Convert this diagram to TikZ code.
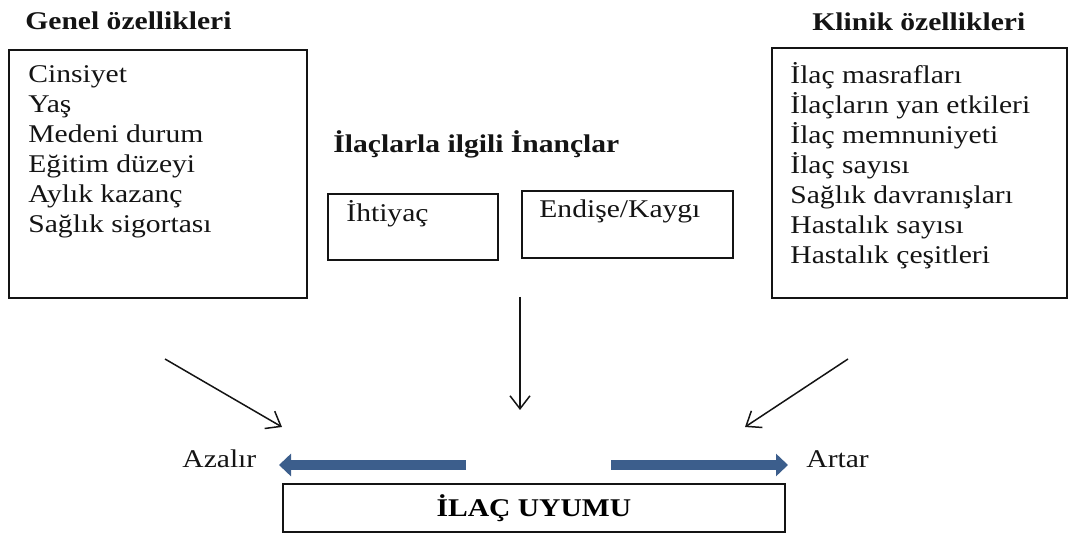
\documentclass[tikz,border=0pt]{standalone}
\usepackage{fontspec}
\setmainfont{Liberation Serif}[FakeStretch=1.16]
\usetikzlibrary{positioning,arrows.meta}
\usepackage{xcolor}
\definecolor{ShiftBlue}{RGB}{60,94,140}
\definecolor{InkDark}{RGB}{20,20,20}

\begin{document}
\begin{tikzpicture}[x=0.5pt,y=-0.5pt,
box/.style={rectangle,draw=InkDark,line width=0.9pt,inner sep=0pt,anchor=north west},
heading/.style={font=\fontsize{12.75}{15}\selectfont\bfseries,text=InkDark,inner sep=0pt,anchor=base west},
itemlist/.style={font=\fontsize{12.75}{15}\selectfont,text=InkDark,inner sep=0pt,align=left,anchor=north west},
plain/.style={font=\fontsize{12.75}{15}\selectfont,text=InkDark,inner sep=0pt,anchor=base west},
arrow/.style={-{Straight Barb[length=6.5pt,width=10pt]},line width=0.75pt,draw=InkDark},
blockarrow/.style={-{Triangle[length=6pt 0,width=11pt 0]},line width=4.75pt,draw=ShiftBlue}
]
\useasboundingbox (0,0) rectangle (1070,533);
% general characteristics
\node[heading] (genel) at (25,30) {Genel özellikleri};
\node[box,minimum width=149pt,minimum height=124pt] (genelbox) at (8,49) {};
\node[itemlist] (genellist) at (28,65) {Cinsiyet\\Yaş\\Medeni durum\\Eğitim düzeyi\\Aylık kazanç\\Sağlık sigortası};
% clinical characteristics
\node[heading] (klinik) at (812,31) {Klinik özellikleri};
\node[box,minimum width=147.5pt,minimum height=125pt] (klinikbox) at (771,47) {};
\node[itemlist] (kliniklist) at (790,62) {İlaç masrafları\\İlaçların yan etkileri\\İlaç memnuniyeti\\İlaç sayısı\\Sağlık davranışları\\Hastalık sayısı\\Hastalık çeşitleri};
% beliefs
\node[heading] (inanc) at (333,153) {İlaçlarla ilgili İnançlar};
\node[box,minimum width=85pt,minimum height=33pt] (ihtiyacbox) at (327,193) {};
\node[plain] (ihtiyac) at (346,222) {İhtiyaç};
\node[box,minimum width=105.5pt,minimum height=33.5pt] (endisebox) at (521,190) {};
\node[plain] (endise) at (539,218) {Endişe/Kaygı};
% adherence
\node[box,font=\fontsize{12.75}{15}\selectfont\bfseries,minimum width=251pt,minimum height=24pt] (uyum) at (282,483) {İLAÇ UYUMU};
\node[plain] (azalir) at (182,468) {Azalır};
\node[plain] (artar) at (806,468) {Artar};

\coordinate (lefttop) at (165,359);
\coordinate (lefttip) at (282,427);
\coordinate (midtop) at (520,297);
\coordinate (midtip) at (520,410);
\coordinate (righttop) at (848,359);
\coordinate (righttip) at (745,427);
\coordinate (decstart) at (466,465);
\coordinate (dectip) at (279,465);
\coordinate (incstart) at (611,465);
\coordinate (inctip) at (788,465);

\draw[arrow] (lefttop)--(lefttip); \draw[arrow] (midtop)--(midtip); \draw[arrow] (righttop)--(righttip);
\draw[blockarrow] (decstart)--(dectip); \draw[blockarrow] (incstart)--(inctip);
\end{tikzpicture}
\end{document}
